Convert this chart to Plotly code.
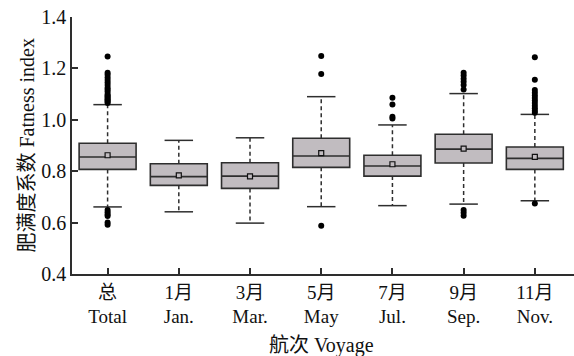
import numpy as np
import plotly.graph_objects as go

categories = ["总<br>Total", "1月<br>Jan.", "3月<br>Mar.", "5月<br>May", "7月<br>Jul.", "9月<br>Sep.", "11月<br>Nov."]
q1 = [0.807, 0.745, 0.733, 0.815, 0.781, 0.832, 0.807]
median = [0.855, 0.779, 0.781, 0.859, 0.820, 0.886, 0.850]
q3 = [0.909, 0.829, 0.833, 0.928, 0.862, 0.944, 0.894]
mean = [0.862, 0.784, 0.780, 0.870, 0.827, 0.888, 0.856]
upper_whisker = [1.059, 0.920, 0.930, 1.090, 0.980, 1.102, 1.021]
lower_whisker = [0.661, 0.642, 0.598, 0.662, 0.666, 0.672, 0.685]
outliers = [
    [1.246, 1.183, 1.175, 1.165, 1.155, 1.145, 1.135, 1.125, 1.118, 1.110, 1.100, 1.095,
     1.090, 1.085, 1.080, 1.075, 1.070, 1.065, 0.649, 0.640, 0.632, 0.626, 0.600, 0.592],
    [],
    [],
    [1.248, 1.178, 0.588],
    [1.086, 1.060, 1.012, 1.005],
    [1.183, 1.172, 1.160, 1.148, 1.135, 1.118, 0.649, 0.638, 0.627],
    [1.243, 1.156, 1.116, 1.105, 1.095, 1.085, 1.075, 1.065, 1.055, 1.045, 1.035, 1.027, 0.674],
]

FONT = "'Liberation Serif', 'Times New Roman', 'Noto Sans CJK SC', serif"
LINE = "#2e2e2e"
FILL = "#c1bcc0"

pos = np.arange(len(categories))
cap = 0.2

fig = go.Figure()

# dashed whiskers
wx, wy = [], []
for i in pos:
    wx += [i, i, None, i, i, None]
    wy += [q3[i], upper_whisker[i], None, q1[i], lower_whisker[i], None]
fig.add_trace(go.Scatter(x=wx, y=wy, mode="lines",
                         line=dict(color=LINE, width=1.5, dash="4px,3px"),
                         hoverinfo="skip", showlegend=False))
# caps
cx, cy = [], []
for i in pos:
    cx += [i - cap, i + cap, None, i - cap, i + cap, None]
    cy += [upper_whisker[i], upper_whisker[i], None, lower_whisker[i], lower_whisker[i], None]
fig.add_trace(go.Scatter(x=cx, y=cy, mode="lines",
                         line=dict(color=LINE, width=1.5),
                         hoverinfo="skip", showlegend=False))

fig.add_trace(go.Box(x=pos, q1=q1, median=median, q3=q3,
                     lowerfence=q1, upperfence=q3,
                     width=0.8, whiskerwidth=0,
                     fillcolor=FILL, line=dict(color=LINE, width=1.6),
                     boxpoints=False, showlegend=False))

# means
fig.add_trace(go.Scatter(x=pos, y=mean, mode="markers",
                         marker=dict(symbol="square", size=5, color=FILL,
                                     line=dict(color="#111", width=1.2)),
                         showlegend=False))

# outliers
ox, oy = [], []
for i in pos:
    for v in outliers[i]:
        ox.append(i)
        oy.append(v)
fig.add_trace(go.Scatter(x=ox, y=oy, mode="markers",
                         marker=dict(symbol="circle", size=6, color="#000"),
                         showlegend=False))

fig.add_annotation(text="肥满度系数 Fatness index", xref="paper", yref="paper",
                   x=(26 - 72) / 502, y=0.5, xanchor="center", yanchor="middle",
                   textangle=-90, showarrow=False,
                   font=dict(family=FONT, size=20, color="#111"))
fig.add_annotation(text="航次 Voyage", xref="paper", yref="paper",
                   x=(321 - 72) / 502, y=-(345 - 274) / 257,
                   xanchor="center", yanchor="middle", showarrow=False,
                   font=dict(family=FONT, size=20, color="#111"))

fig.update_layout(
    width=574, height=356,
    margin=dict(l=72, r=0, t=17, b=82),
    paper_bgcolor="white", plot_bgcolor="white",
    font=dict(family=FONT, size=20, color="#111"),
    xaxis=dict(range=[-0.5, 6.55], tickvals=pos, ticktext=categories,
               ticks="inside", ticklen=6, tickcolor=LINE, tickwidth=1.5,
               showline=True, linecolor=LINE, linewidth=1.5,
               showgrid=False, zeroline=False,
               tickfont=dict(family=FONT, size=19, color="#111")),
    yaxis=dict(range=[0.4, 1.4], tickvals=[0.4, 0.6, 0.8, 1.0, 1.2, 1.4],
               ticktext=["0.4", "0.6", "0.8", "1.0", "1.2", "1.4"],
               ticks="inside", ticklen=6, tickcolor=LINE, tickwidth=1.5,
               showline=True, linecolor=LINE, linewidth=1.5,
               showgrid=False, zeroline=False,
               tickfont=dict(family=FONT, size=20, color="#111")),
)

fig.write_html("out.html")
